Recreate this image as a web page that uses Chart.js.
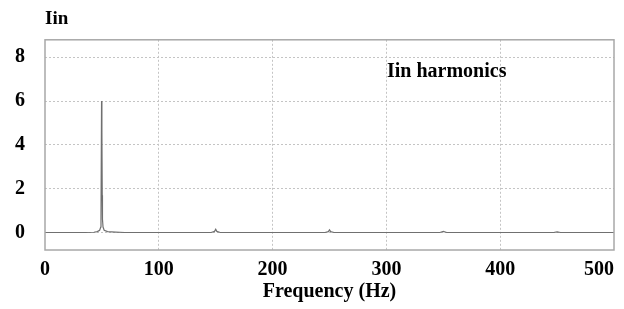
<!DOCTYPE html>
<html lang="en">
  <head>
    <meta charset="UTF-8" />
    <title>Iin harmonics</title>
    <style>
      html, body { margin: 0; padding: 0; background: #fff; }
      .chart { width: 624px; height: 309px; }
    </style>
  </head>
  <body>
    <script src="https://cdn.jsdelivr.net/npm/chart.js"></script>
    <div class="chart"><canvas id="chart"></canvas></div>

    <script>
      // spectrum of the input current
      const freqHz = [0, 35, 43, 46, 48, 49, 49.2, 49.7, 50, 50.3, 50.5, 51, 52, 55, 62, 70,
        146, 149, 150, 151, 154, 246, 249, 250, 251, 254, 347, 350, 353, 447, 450, 453, 500];
      const iin = [0, 0, 0.01, 0.04, 0.1, 0.25, 0.6, 6.0, 4.6, 1.7, 0.6, 0.25, 0.1, 0.04, 0.02, 0,
        0, 0.05, 0.15, 0.05, 0, 0, 0.04, 0.12, 0.04, 0, 0, 0.05, 0, 0, 0.03, 0, 0];
      const yTicks = [0, 2, 4, 6, 8];
      const xTicks = [0, 100, 200, 300, 400, 500];

      const serif = "'Liberation Serif', 'Times New Roman', serif";

      // grey frame round the plot + the label inside it
      const framePlugin = {
        id: "frame",
        afterDatasetsDraw(chart) {
          const { ctx, chartArea: a } = chart;
          ctx.save();
          ctx.strokeStyle = "#a8a8a8";
          ctx.lineWidth = 1.5;
          ctx.strokeRect(a.left, a.top, a.right - a.left, a.bottom - a.top);
          ctx.fillStyle = "#000";
          ctx.font = "bold 20px " + serif;
          ctx.textBaseline = "alphabetic";
          ctx.fillText("Iin harmonics", 387, 77);
          ctx.restore();
        },
      };

      const ctx = document.getElementById("chart");
      new Chart(ctx, {
        type: "scatter",
        data: {
          datasets: [
            {
              data: freqHz.map((f, i) => ({ x: f, y: iin[i] })),
              showLine: true,
              borderColor: "#707070",
              borderWidth: 1.2,
              pointRadius: 0,
              tension: 0,
            },
          ],
        },
        options: {
          responsive: true,
          maintainAspectRatio: false,
          animation: false,
          layout: { padding: { left: 15, right: 10, top: 0, bottom: 0 } },
          plugins: {
            legend: { display: false },
            tooltip: { enabled: false },
            title: {
              display: true,
              text: "Iin",
              align: "start",
              fullSize: false,
              color: "#000",
              font: { family: serif, size: 19, weight: "bold" },
              padding: { top: 8, bottom: 9 },
            },
          },
          scales: {
            x: {
              type: "linear",
              min: 0,
              max: 500,
              afterBuildTicks: (axis) => {
                axis.ticks = xTicks.map((v) => ({ value: v }));
              },
              afterFit: (axis) => {
                axis.paddingLeft = 0;
                axis.paddingRight = 0;
                axis.height = 59;
              },
              border: { display: false, dash: [2, 2] },
              grid: {
                color: (c) => (c.tick && (c.tick.value === 0 || c.tick.value === 500) ? "rgba(0,0,0,0)" : "#c4c4c4"),
                lineWidth: 1,
                drawTicks: false,
              },
              ticks: {
                color: "#000",
                padding: 8,
                maxRotation: 0,
                font: { family: serif, size: 20, weight: "bold" },
                callback: (v) => (v === 500 ? "500      " : String(v)),
              },
              title: {
                display: true,
                text: "Frequency (Hz)",
                color: "#000",
                font: { family: serif, size: 20, weight: "bold" },
                padding: { top: 0, bottom: 5 },
              },
            },
            y: {
              min: -0.8,
              max: 8.8,
              afterBuildTicks: (axis) => {
                axis.ticks = yTicks.map((v) => ({ value: v }));
              },
              afterFit: (axis) => {
                axis.width = 30;
              },
              border: { display: false, dash: [2, 2] },
              grid: {
                color: "#c4c4c4",
                lineWidth: 1,
                drawTicks: false,
              },
              ticks: {
                color: "#000",
                padding: 20,
                font: { family: serif, size: 20, weight: "bold" },
              },
            },
          },
        },
        plugins: [framePlugin],
      });
    </script>
  </body>
</html>
